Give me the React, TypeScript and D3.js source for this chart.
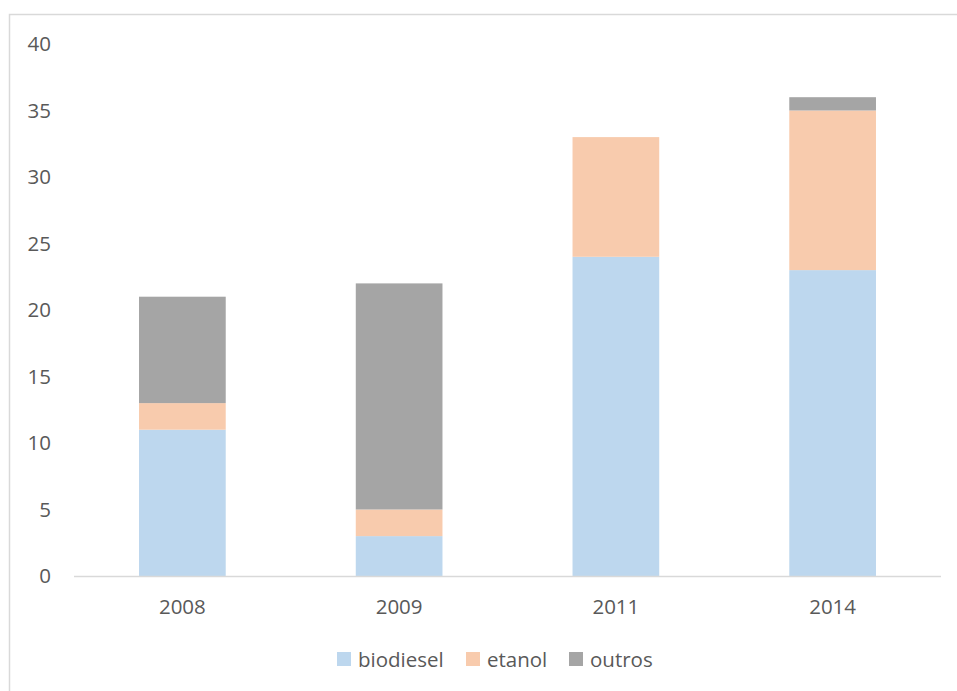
import React from "react";
import * as d3 from "d3";

const years = ["2008", "2009", "2011", "2014"];
const biodiesel = [11, 3, 24, 23];
const etanol = [2, 2, 9, 12];
const outros = [8, 17, 0, 1];
const seriesNames = ["biodiesel", "etanol", "outros"];
const seriesColors = ["#BDD7EE", "#F8CBAD", "#A5A5A5"];
const yTicks = [0, 5, 10, 15, 20, 25, 30, 35, 40];

const W = 957;
const H = 691;
const plot = { left: 74, right: 941, top: 44, bottom: 576 };
const font = "'Open Sans', 'Liberation Sans', sans-serif";
const fontSize = 20.5;
const textColor = "#595959";

export default function App() {
  const x = d3
    .scaleBand<string>()
    .domain(years)
    .range([plot.left, plot.right])
    .paddingInner(0.6)
    .paddingOuter(0.3);
  const y = d3.scaleLinear().domain([0, 40]).range([plot.bottom, plot.top]);

  const rows = years.map((yr, i) => ({
    year: yr,
    biodiesel: biodiesel[i],
    etanol: etanol[i],
    outros: outros[i],
  }));
  const stacked = d3.stack<any>().keys(seriesNames)(rows);

  const legendX = [337, 466, 569];

  return (
    <svg
      width={W}
      height={H}
      style={{ position: "absolute", left: 0, top: 0, background: "#fff" }}
    >
      <rect x={9.5} y={14.5} width={W} height={H} fill="#fff" stroke="#D9D9D9" strokeWidth={1.5} />
      {stacked.map((layer, si) =>
        layer.map((d, i) => {
          const top = y(d[1]);
          const h = y(d[0]) - top;
          if (h <= 0) return null;
          return (
            <rect
              key={`${si}-${i}`}
              x={x(years[i])}
              y={top}
              width={x.bandwidth()}
              height={h}
              fill={seriesColors[si]}
            />
          );
        })
      )}
      <line
        x1={plot.left}
        x2={plot.right}
        y1={y(0) + 0.5}
        y2={y(0) + 0.5}
        stroke="#D9D9D9"
        strokeWidth={1.5}
      />
      {yTicks.map((t) => (
        <text
          key={t}
          x={51}
          y={y(t)}
          dy="0.35em"
          textAnchor="end"
          fontFamily={font}
          fontSize={fontSize}
          fill={textColor}
        >
          {t}
        </text>
      ))}
      {years.map((yr) => (
        <text
          key={yr}
          x={(x(yr) as number) + x.bandwidth() / 2}
          y={607}
          dy="0.35em"
          textAnchor="middle"
          fontFamily={font}
          fontSize={fontSize}
          fill={textColor}
        >
          {yr}
        </text>
      ))}
      {seriesNames.map((name, i) => (
        <g key={name}>
          <rect x={legendX[i]} y={652} width={14} height={14} fill={seriesColors[i]} />
          <text
            x={legendX[i] + 21}
            y={660}
            dy="0.35em"
            fontFamily={font}
            fontSize={fontSize}
            fill={textColor}
          >
            {name}
          </text>
        </g>
      ))}
    </svg>
  );
}
